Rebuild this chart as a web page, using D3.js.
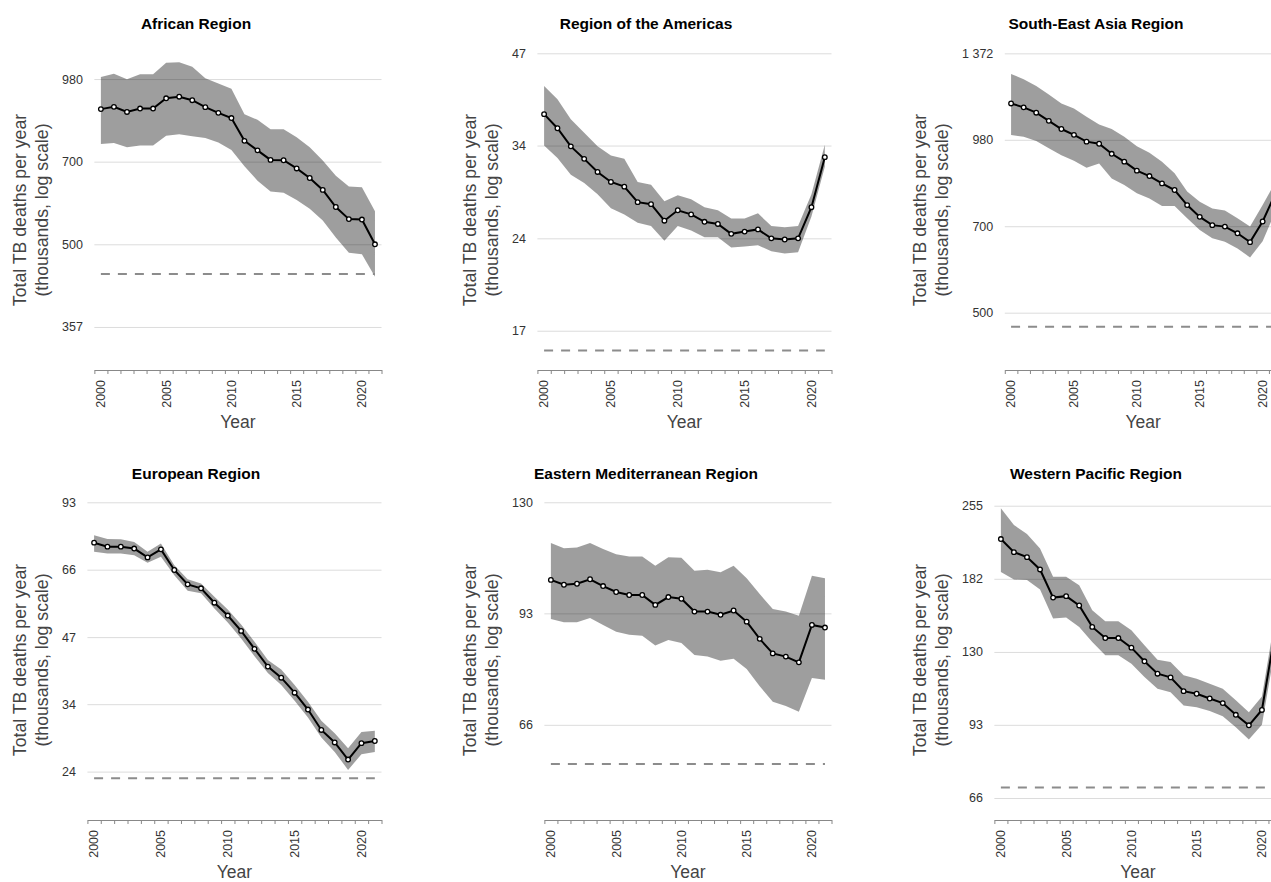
<!DOCTYPE html>
<html>
<head>
<meta charset="utf-8">
<title>TB deaths by WHO region</title>
<script src="https://cdn.jsdelivr.net/npm/d3@7"></script>
<style>
  body { margin: 0; overflow: hidden; background: #fff; }
  svg { display: block; font-family: "Liberation Sans", Arial, sans-serif; }
</style>
</head>
<body>
<svg id="chart" width="1320" height="882"></svg>
<script>
// Years shown on every panel, and which of them carry a label
const years = [2000, 2001, 2002, 2003, 2004, 2005, 2006, 2007, 2008, 2009, 2010,
               2011, 2012, 2013, 2014, 2015, 2016, 2017, 2018, 2019, 2020, 2021];
const labelYears = [2000, 2005, 2010, 2015, 2020];

const regionNames = ["African Region", "Region of the Americas", "South-East Asia Region",
                     "European Region", "Eastern Mediterranean Region", "Western Pacific Region"];

// Total TB deaths (thousands): best estimate with lower / upper uncertainty bounds
const afrBest = [867, 875, 857, 869, 869, 906, 912, 899, 874, 854, 836, 762, 733, 705, 704, 681, 655, 624, 582, 554, 553, 500];
const afrLow  = [752, 755, 742, 748, 748, 778, 783, 776, 771, 757, 734, 687, 648, 620, 617, 599, 578, 551, 514, 483, 480, 438];
const afrHigh = [988, 1001, 979, 999, 999, 1047, 1049, 1030, 983, 962, 942, 849, 830, 799, 799, 773, 742, 703, 661, 633, 631, 572];

const amrBest = [38.0, 36.1, 33.8, 32.3, 30.8, 29.7, 29.2, 27.6, 27.4, 25.8, 26.8, 26.4, 25.7, 25.5, 24.6, 24.8, 25.0, 24.2, 24.1, 24.2, 27.1, 32.5];
const amrLow  = [33.9, 32.4, 30.5, 29.6, 28.4, 27.0, 26.4, 25.6, 25.3, 24.0, 25.3, 24.9, 24.3, 24.3, 23.4, 23.5, 23.6, 23.1, 22.9, 23.0, 26.2, 31.4];
const amrHigh = [42.1, 40.1, 37.3, 35.5, 33.8, 32.7, 32.3, 29.7, 29.4, 27.7, 28.3, 27.9, 27.1, 26.8, 26.0, 26.0, 26.5, 25.3, 25.2, 25.3, 28.4, 34.0];

const searBest = [1129, 1112, 1089, 1055, 1022, 999, 973, 965, 928, 900, 869, 851, 827, 806, 760, 726, 703, 699, 681, 658, 713, 794];
const searLow  = [998, 992, 975, 948, 923, 903, 879, 894, 843, 822, 796, 780, 757, 757, 722, 690, 668, 659, 642, 620, 660, 740];
const searHigh = [1266, 1241, 1208, 1169, 1129, 1107, 1072, 1040, 1022, 992, 956, 932, 900, 860, 801, 770, 750, 744, 722, 699, 760, 830];

const eurBest = [76.0, 74.5, 74.5, 73.8, 70.6, 73.5, 66.3, 61.7, 60.5, 56.3, 52.8, 48.9, 44.7, 40.9, 38.7, 35.9, 33.0, 29.8, 28.0, 25.7, 27.9, 28.2];
const eurLow  = [72.6, 72.0, 72.0, 71.4, 68.7, 70.8, 64.6, 59.8, 59.0, 54.7, 51.0, 47.1, 43.1, 39.6, 37.3, 34.5, 31.7, 28.7, 26.7, 24.4, 26.4, 26.7];
const eurHigh = [78.9, 77.4, 77.3, 76.3, 72.6, 75.7, 67.9, 63.3, 62.0, 58.0, 54.4, 50.5, 46.3, 42.3, 40.3, 37.3, 34.3, 31.2, 29.3, 27.2, 29.5, 29.7];

const emrBest = [102.9, 101.4, 101.7, 103.1, 101.0, 99.2, 98.3, 98.3, 95.4, 97.7, 97.2, 93.5, 93.5, 92.6, 93.8, 90.7, 86.1, 82.4, 81.6, 80.2, 89.8, 89.1];
const emrLow  = [91.4, 90.5, 90.5, 91.7, 89.8, 88.0, 87.2, 86.9, 84.4, 85.8, 85.0, 82.0, 81.6, 80.6, 81.1, 78.6, 74.6, 71.2, 70.3, 69.1, 76.5, 76.1];
const emrHigh = [115.0, 113.2, 113.5, 115.0, 113.0, 111.2, 110.4, 110.4, 107.4, 110.2, 110.0, 105.8, 106.1, 105.3, 107.4, 103.4, 98.6, 94.2, 93.5, 92.3, 104.2, 103.4];

const wprBest = [218.8, 206.0, 201.3, 190.2, 167.1, 168.2, 161.1, 146.0, 138.7, 138.7, 132.7, 124.6, 117.7, 115.7, 108.6, 107.3, 105.0, 102.8, 97.4, 92.8, 99.6, 142];
const wprLow  = [188.1, 181.6, 181.1, 173.4, 151.7, 152.4, 146.0, 136.2, 128.1, 128.1, 123.2, 115.9, 109.8, 108.1, 101.7, 100.9, 99.1, 96.7, 92.0, 86.9, 93.0, 132];
const wprHigh = [252.0, 233.4, 223.9, 209.5, 183.9, 183.9, 176.9, 157.6, 149.8, 149.8, 143.7, 134.1, 125.5, 124.2, 116.8, 115.0, 112.4, 109.8, 104.1, 98.6, 106.0, 152];

// Log-axis gridline values per region (geometric steps of 1.4)
const afrTicks  = [357.1, 500, 700, 980];
const amrTicks  = [17.3, 24.2, 33.9, 47.4];
const searTicks = [500, 700, 980, 1372];
const eurTicks  = [24.2, 33.9, 47.4, 66.4, 93.0];
const emrTicks  = [66.4, 93.0, 130.1];
const wprTicks  = [66.4, 93.0, 130.1, 182.2, 255.1];

// Milestone level drawn as a dashed reference line
const milestones = [443, 16.1, 473.5, 23.4, 59.0, 69.7];

// Vertical extent of each log axis
const yDomains = [[299.7, 1103], [15.0, 47.97], [400, 1390], [19.0, 94.07], [49.8, 131], [60.0, 261.9]];

const bestSeries = [afrBest, amrBest, searBest, eurBest, emrBest, wprBest];
const lowSeries  = [afrLow, amrLow, searLow, eurLow, emrLow, wprLow];
const highSeries = [afrHigh, amrHigh, searHigh, eurHigh, emrHigh, wprHigh];
const tickSets   = [afrTicks, amrTicks, searTicks, eurTicks, emrTicks, wprTicks];

const fmt = d3.formatLocale({ decimal: ".", thousands: " ", grouping: [3], currency: ["", ""] }).format(",.0f");

const svg = d3.select("#chart");

// Width of a y tick label, used to size the left margin of each panel
const probe = svg.append("text").attr("font-size", 12.5).attr("visibility", "hidden");
function textWidth(s) { probe.text(s); return probe.node().getComputedTextLength(); }

regionNames.forEach((name, i) => {
  const col = i % 3, row = Math.floor(i / 3);
  const colX = col * 450;
  const top = 50 + row * 450, bottom = 370 + row * 450;
  const ticks = tickSets[i];
  const labelW = d3.max(ticks, t => textWidth(fmt(t)));
  const left = colX + 73.5 + labelW;
  const right = colX + 381.5;

  const x = d3.scaleLinear().domain([years[0] - 0.5, years[years.length - 1] + 0.5]).range([left, right]);
  const y = d3.scaleLog().domain(yDomains[i]).range([bottom, top]);

  const g = svg.append("g");

  // Panel title
  g.append("text")
    .attr("x", colX + 196).attr("y", top - 21)
    .attr("text-anchor", "middle").attr("font-size", 15.5).attr("font-weight", "bold")
    .attr("fill", "#000").text(name);

  // Y axis title (two lines)
  const yt = g.append("text")
    .attr("transform", `translate(${colX + 26},${(top + bottom) / 2}) rotate(-90)`)
    .attr("text-anchor", "middle").attr("font-size", 17.7).attr("fill", "#444");
  yt.append("tspan").attr("x", 0).attr("y", 0).text("Total TB deaths per year");
  yt.append("tspan").attr("x", 0).attr("y", 22).text("(thousands, log scale)");

  // Gridlines and y tick labels
  const yAxis = d3.axisLeft(y).tickValues(ticks).tickFormat(fmt)
    .tickSize(-(right - left)).tickPadding(11.5);
  const ya = g.append("g").attr("transform", `translate(${left},0)`).call(yAxis);
  ya.select(".domain").remove();
  ya.selectAll(".tick line").attr("stroke", "#dcdcdc").attr("stroke-width", 1);
  ya.selectAll(".tick text").attr("font-size", 12.5).attr("fill", "#333")
    .attr("font-family", "Liberation Sans, Arial, sans-serif");

  // Uncertainty band
  const idx = d3.range(years.length);
  const area = d3.area()
    .x(k => x(years[k]))
    .y0(k => y(lowSeries[i][k]))
    .y1(k => y(highSeries[i][k]));
  g.append("path").datum(idx).attr("d", area)
    .attr("fill", "#000").attr("fill-opacity", 0.38);

  // Milestone dashed line
  g.append("line")
    .attr("x1", x(years[0])).attr("x2", x(years[years.length - 1]))
    .attr("y1", y(milestones[i])).attr("y2", y(milestones[i]))
    .attr("stroke", "#8c8c8c").attr("stroke-width", 2).attr("stroke-dasharray", "9,8");

  // Best-estimate line with point markers
  const line = d3.line().x(k => x(years[k])).y(k => y(bestSeries[i][k]));
  g.append("path").datum(idx).attr("d", line)
    .attr("fill", "none").attr("stroke", "#000").attr("stroke-width", 2);
  g.selectAll("circle.pt").data(idx).join("circle")
    .attr("class", "pt")
    .attr("cx", k => x(years[k])).attr("cy", k => y(bestSeries[i][k]))
    .attr("r", 2.3).attr("fill", "#fff").attr("stroke", "#000").attr("stroke-width", 1.3);

  // X axis: tick marks at year boundaries, labels at year centres
  const edges = d3.range(years[0] - 0.5, years[years.length - 1] + 1, 1);
  const xa = g.append("g").attr("transform", `translate(0,${bottom})`)
    .call(d3.axisBottom(x).tickValues(edges).tickFormat("").tickSize(4).tickSizeOuter(0));
  xa.select(".domain").attr("stroke", "#888");
  xa.selectAll(".tick line").attr("stroke", "#888");

  const xl = g.append("g").attr("transform", `translate(0,${bottom})`);
  xl.selectAll("text").data(labelYears).join("text")
    .attr("transform", d => `translate(${x(d)},10) rotate(-90)`)
    .attr("text-anchor", "end").attr("dy", "0.35em")
    .attr("font-size", 12.5).attr("fill", "#333").text(d => d);

  // X axis title
  g.append("text")
    .attr("x", (left + right) / 2).attr("y", bottom + 58)
    .attr("text-anchor", "middle").attr("font-size", 17.5).attr("fill", "#444")
    .text("Year");
});

probe.remove();
</script>
</body>
</html>
